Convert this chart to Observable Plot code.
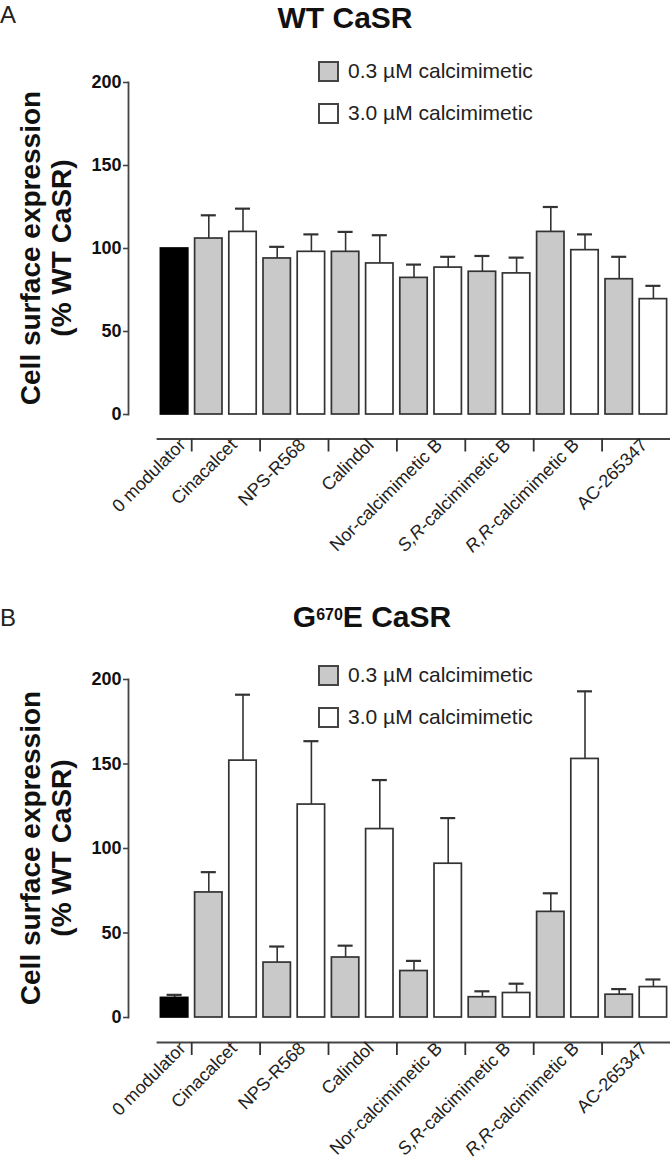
<!DOCTYPE html>
<html><head><meta charset="utf-8">
<script src="https://cdn.jsdelivr.net/npm/d3@7"></script>
<script src="https://cdn.jsdelivr.net/npm/@observablehq/plot@0.6"></script>
<style>
body{margin:0;background:#fff;}
#page{position:relative;width:670px;height:1170px;overflow:hidden;font-family:"Liberation Sans",Arial,Helvetica,sans-serif;}
.panel{position:absolute;left:0;}
.letter{position:absolute;left:0;font-size:24px;line-height:24px;color:#222;}
.title{position:absolute;font-weight:bold;font-size:30px;line-height:34px;color:#111;white-space:nowrap;transform:translateX(-50%);}
.title sup{font-size:16px;vertical-align:top;position:relative;top:-2px;}
.ylab{position:absolute;font-weight:bold;font-size:28px;line-height:31px;text-align:center;white-space:nowrap;transform:translate(-50%,-50%) rotate(-90deg);color:#111;}
.legend{position:absolute;left:318px;}
.item{display:flex;align-items:center;height:20px;margin-bottom:22px;font-size:21px;color:#222;white-space:nowrap;}
.sw{width:17px;height:17px;border:2px solid #444;margin-right:9px;box-sizing:content-box;}
</style></head>
<body>
<div id="page">
  <div class="letter" style="top:3px">A</div>
  <div class="title" style="left:345px;top:1px">WT CaSR</div>
  <div class="letter" style="top:606px">B</div>
  <div class="title" style="left:372px;top:600px">G<sup>670</sup>E CaSR</div>
  <div id="panelA" class="panel" style="top:0px"></div>
  <div id="panelB" class="panel" style="top:590px"></div>
  <div class="ylab" style="left:46px;top:248px">Cell surface expression<br>(% WT CaSR)</div>
  <div class="ylab" style="left:46px;top:848px">Cell surface expression<br>(% WT CaSR)</div>
  <div class="legend" id="legA" style="top:61px"></div>
  <div class="legend" id="legB" style="top:665px"></div>
</div>
<script>
// ---- data ----
const groups = ["0 modulator","Cinacalcet","NPS-R568","Calindol","Nor-calcimimetic B","S,R-calcimimetic B","R,R-calcimimetic B","AC-265347"];
const treatments = groups.slice(1);
const doses = ["0.3 \u00b5M calcimimetic","3.0 \u00b5M calcimimetic"];
const yTicks = [0,50,100,150,200];

// Panel A: WT CaSR (mean, SEM)
const wtControl = 100, wtControlSem = 0;
const wtLow     = [106, 94, 98, 82.3, 86, 110, 81.5];
const wtLowSem  = [14, 7, 12, 8, 9.5, 15, 13.5];
const wtHigh    = [110, 98, 91, 88.5, 85, 99, 69.5];
const wtHighSem = [14, 10.5, 17, 6.5, 9.5, 9.5, 8];

// Panel B: G670E CaSR (mean, SEM)
const mutControl = 11.6, mutControlSem = 1.8;
const mutLow     = [74, 32.5, 35.5, 27.5, 12, 62.5, 13.5];
const mutLowSem  = [12, 9.5, 7, 6, 3.5, 11, 3.3];
const mutHigh    = [152, 126, 111.5, 91, 14.5, 153, 18];
const mutHighSem = [39, 37.5, 29, 27, 5.5, 40, 4.5];

const fills = {control: "#000000", [doses[0]]: "#c9c9c9", [doses[1]]: "#ffffff"};
const FONT = '"Liberation Sans", Arial, Helvetica, sans-serif';

function buildRows(ctrl, ctrlSem, low, lowSem, high, highSem) {
  const rows = [{slot: 0, group: groups[0], dose: "control", value: ctrl, sem: ctrlSem}];
  treatments.forEach((g, i) => {
    rows.push({slot: 1 + 2*i, group: g, dose: doses[0], value: low[i], sem: lowSem[i]});
    rows.push({slot: 2 + 2*i, group: g, dose: doses[1], value: high[i], sem: highSem[i]});
  });
  return rows;
}

function panel(rows, opts) {
  const centers = groups.map(g => {
    const s = rows.filter(r => r.group === g).map(r => r.slot);
    return (d3.min(s) + d3.max(s) + 1) / 2;
  });
  const boundaries = groups.slice(1).map(g => d3.min(rows.filter(r => r.group === g), r => r.slot));
  const nameAt = new Map(centers.map((c, i) => [c, groups[i]]));
  const nSlots = d3.max(rows, r => r.slot) + 1;
  const chart = Plot.plot({
    width: 670, height: opts.height,
    marginTop: opts.marginTop, marginBottom: opts.marginBottom, marginLeft: 128, marginRight: 0,
    x: {type: "linear", domain: [0, nSlots], insetLeft: 29, label: null},
    y: {domain: [0, 200], insetBottom: opts.insetBottom, label: null},
    style: {fontFamily: FONT, background: "transparent", color: "#111"},
    marks: [
      Plot.ruleX(rows.filter(d => d.sem > 0), {x: d => d.slot + 0.5, y1: "value", y2: d => d.value + d.sem, stroke: "#333", strokeWidth: 1.6}),
      Plot.ruleY(rows.filter(d => d.sem > 0), {y: d => d.value + d.sem, x1: d => d.slot + 0.28, x2: d => d.slot + 0.72, stroke: "#333", strokeWidth: 2.2}),
      Plot.rect(rows, {x1: "slot", x2: d => d.slot + 1, y1: 0, y2: "value", fill: d => fills[d.dose], stroke: d => d.dose === "control" ? "#000" : "#333", strokeWidth: 1.7, insetLeft: 3.4, insetRight: 3.4}),
      Plot.frame({anchor: "left", insetBottom: opts.insetBottom, stroke: "#444", strokeWidth: 1.8}),
      Plot.frame({anchor: "bottom", insetLeft: 29, stroke: "#444", strokeWidth: 1.8}),
      Plot.axisY({ticks: yTicks, tickSize: 5, tickPadding: 2, fontSize: 18, fontWeight: "bold", stroke: "#444", strokeWidth: 1.6}),
      Plot.axisX({ticks: boundaries, tickSize: 13, tickFormat: () => "", stroke: "#333", strokeWidth: 1.8}),
      Plot.axisX({ticks: centers, tickSize: 0, tickRotate: -45, tickPadding: 3, dx: 8, tickFormat: v => nameAt.get(v), fontSize: 18, fill: "#222"})
    ]
  });
  chart.querySelectorAll("text").forEach(t => {
    const m = /^(S,R|R,R)(-calcimimetic B)$/.exec(t.textContent);
    if (m) {
      t.textContent = "";
      const it = document.createElementNS("http://www.w3.org/2000/svg", "tspan");
      it.setAttribute("font-style", "italic");
      it.textContent = m[1];
      t.appendChild(it);
      t.appendChild(document.createTextNode(m[2]));
    }
  });
  return chart;
}

function legend(el) {
  doses.forEach(d => {
    const item = document.createElement("div");
    item.className = "item";
    const sw = document.createElement("div");
    sw.className = "sw";
    sw.style.background = fills[d];
    const tx = document.createElement("span");
    tx.textContent = d;
    item.appendChild(sw); item.appendChild(tx);
    el.appendChild(item);
  });
}

document.getElementById("panelA").appendChild(panel(
  buildRows(wtControl, wtControlSem, wtLow, wtLowSem, wtHigh, wtHighSem),
  {height: 590, marginTop: 82, marginBottom: 151.5, insetBottom: 24.5}));
document.getElementById("panelB").appendChild(panel(
  buildRows(mutControl, mutControlSem, mutLow, mutLowSem, mutHigh, mutHighSem),
  {height: 580, marginTop: 89, marginBottom: 128, insetBottom: 25}));
legend(document.getElementById("legA"));
legend(document.getElementById("legB"));
</script>
</body></html>
